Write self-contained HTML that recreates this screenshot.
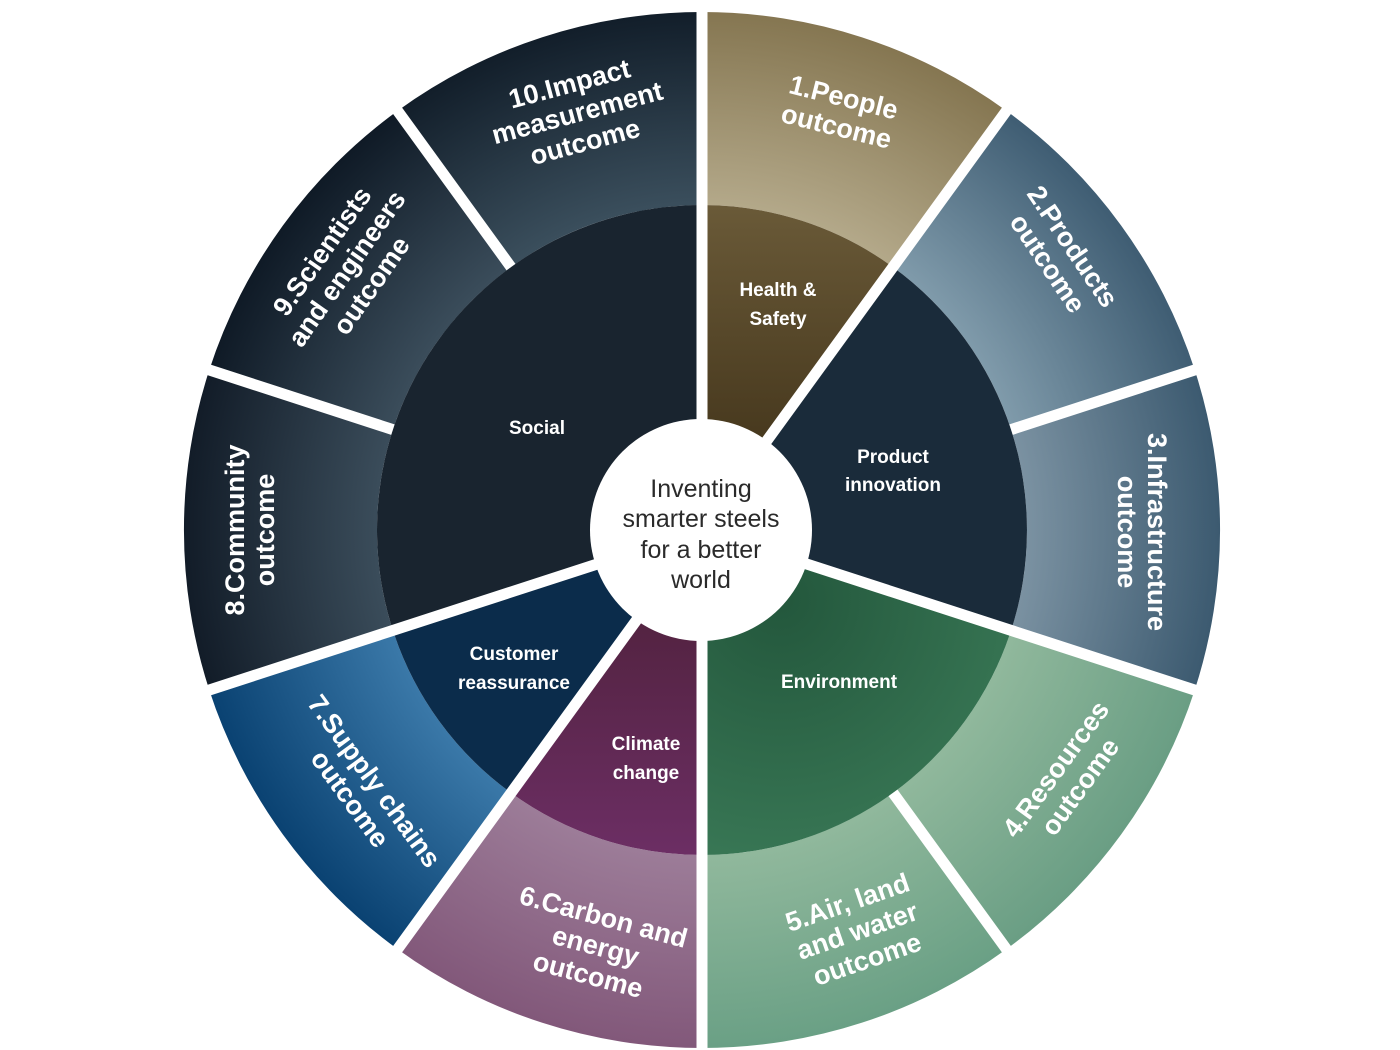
<!DOCTYPE html>
<html><head><meta charset="utf-8"><style>
html,body{margin:0;padding:0;background:#fff;}
svg{display:block;}
.o{font-family:"Liberation Sans",sans-serif;font-weight:bold;font-size:27px;fill:#fff;text-anchor:middle;}
.i{font-family:"Liberation Sans",sans-serif;font-weight:bold;font-size:19px;fill:#fff;text-anchor:middle;}
.c{font-family:"Liberation Sans",sans-serif;font-size:25px;fill:#2a2a2a;text-anchor:middle;}
</style></head><body>
<svg width="1400" height="1050" viewBox="0 0 1400 1050" xmlns="http://www.w3.org/2000/svg">
<defs>
<radialGradient id="g1" gradientUnits="userSpaceOnUse" cx="702" cy="530" r="518"><stop offset="0.63" stop-color="#b3a889"/><stop offset="1" stop-color="#857651"/></radialGradient>
<radialGradient id="g2" gradientUnits="userSpaceOnUse" cx="702" cy="530" r="518"><stop offset="0.63" stop-color="#7f9aaa"/><stop offset="1" stop-color="#3f5d73"/></radialGradient>
<radialGradient id="g3" gradientUnits="userSpaceOnUse" cx="702" cy="530" r="518"><stop offset="0.63" stop-color="#7a91a1"/><stop offset="1" stop-color="#3c5a70"/></radialGradient>
<radialGradient id="g4" gradientUnits="userSpaceOnUse" cx="702" cy="530" r="518"><stop offset="0.63" stop-color="#90b89c"/><stop offset="1" stop-color="#6a9e84"/></radialGradient>
<radialGradient id="g5" gradientUnits="userSpaceOnUse" cx="702" cy="530" r="518"><stop offset="0.63" stop-color="#90b89c"/><stop offset="1" stop-color="#6aa085"/></radialGradient>
<radialGradient id="g6" gradientUnits="userSpaceOnUse" cx="702" cy="530" r="518"><stop offset="0.63" stop-color="#9c7c98"/><stop offset="1" stop-color="#82587a"/></radialGradient>
<radialGradient id="g7" gradientUnits="userSpaceOnUse" cx="702" cy="530" r="518"><stop offset="0.63" stop-color="#3a78a8"/><stop offset="1" stop-color="#0a4272"/></radialGradient>
<radialGradient id="g8" gradientUnits="userSpaceOnUse" cx="702" cy="530" r="518"><stop offset="0.63" stop-color="#3a4c5a"/><stop offset="1" stop-color="#121c28"/></radialGradient>
<radialGradient id="g9" gradientUnits="userSpaceOnUse" cx="702" cy="530" r="518"><stop offset="0.63" stop-color="#3a4c5a"/><stop offset="1" stop-color="#0f1a26"/></radialGradient>
<radialGradient id="g10" gradientUnits="userSpaceOnUse" cx="702" cy="530" r="518"><stop offset="0.63" stop-color="#3a4e5c"/><stop offset="1" stop-color="#121e2a"/></radialGradient>
<linearGradient id="hs" x1="0" y1="0" x2="0" y2="1"><stop offset="0" stop-color="#6a5a38"/><stop offset="1" stop-color="#3a2c14"/></linearGradient>
<radialGradient id="env" gradientUnits="userSpaceOnUse" cx="780" cy="600" r="300"><stop offset="0" stop-color="#23573c"/><stop offset="1" stop-color="#3b7b58"/></radialGradient>
<linearGradient id="cc" x1="0" y1="0" x2="0" y2="1"><stop offset="0" stop-color="#4a1f34"/><stop offset="1" stop-color="#6c2e64"/></linearGradient>
</defs>
<!-- outer segments -->
<path fill="url(#g1)" d="M702,205 L702,12 A518,518 0 0 1 1006.5,110.9 L893,267.1 A325,325 0 0 0 702,205Z"/>
<path fill="url(#g2)" d="M893,267.1 L1006.5,110.9 A518,518 0 0 1 1194.7,369.9 L1011.1,429.6 A325,325 0 0 0 893,267.1Z"/>
<path fill="url(#g3)" d="M1011.1,429.6 L1194.7,369.9 A518,518 0 0 1 1194.7,690.1 L1011.1,630.4 A325,325 0 0 0 1011.1,429.6Z"/>
<path fill="url(#g4)" d="M1011.1,630.4 L1194.7,690.1 A518,518 0 0 1 1006.5,949.1 L893,792.9 A325,325 0 0 0 1011.1,630.4Z"/>
<path fill="url(#g5)" d="M893,792.9 L1006.5,949.1 A518,518 0 0 1 702,1048 L702,855 A325,325 0 0 0 893,792.9Z"/>
<path fill="url(#g6)" d="M702,855 L702,1048 A518,518 0 0 1 397.5,949.1 L511,792.9 A325,325 0 0 0 702,855Z"/>
<path fill="url(#g7)" d="M511,792.9 L397.5,949.1 A518,518 0 0 1 209.3,690.1 L392.9,630.4 A325,325 0 0 0 511,792.9Z"/>
<path fill="url(#g8)" d="M392.9,630.4 L209.3,690.1 A518,518 0 0 1 209.3,369.9 L392.9,429.6 A325,325 0 0 0 392.9,630.4Z"/>
<path fill="url(#g9)" d="M392.9,429.6 L209.3,369.9 A518,518 0 0 1 397.5,110.9 L511,267.1 A325,325 0 0 0 392.9,429.6Z"/>
<path fill="url(#g10)" d="M511,267.1 L397.5,110.9 A518,518 0 0 1 702,12 L702,205 A325,325 0 0 0 511,267.1Z"/>
<!-- inner sectors -->
<path fill="url(#hs)" d="M702,530 L702,205 A325,325 0 0 1 893,267.1Z"/>
<path fill="#1a2b3a" d="M702,530 L893,267.1 A325,325 0 0 1 1011.1,630.4Z"/>
<path fill="url(#env)" d="M702,530 L1011.1,630.4 A325,325 0 0 1 702,855Z"/>
<path fill="url(#cc)" d="M702,530 L702,855 A325,325 0 0 1 511,792.9Z"/>
<path fill="#0b2c4b" d="M702,530 L511,792.9 A325,325 0 0 1 392.9,630.4Z"/>
<path fill="#19242f" d="M702,530 L392.9,630.4 A325,325 0 0 1 702,205Z"/>
<!-- gaps -->
<g stroke="#fff" stroke-width="11">
<line x1="702" y1="530" x2="702" y2="0"/>
<line x1="702" y1="530" x2="1015" y2="99"/>
<line x1="1011.1" y1="429.6" x2="1210" y2="365"/>
<line x1="702" y1="530" x2="1210" y2="695"/>
<line x1="893" y1="792.9" x2="1015" y2="961"/>
<line x1="702" y1="530" x2="702" y2="1050"/>
<line x1="702" y1="530" x2="389" y2="961"/>
<line x1="702" y1="530" x2="194" y2="695"/>
<line x1="392.9" y1="429.6" x2="194" y2="365"/>
<line x1="511" y1="267.1" x2="389" y2="99"/>
</g>
<circle cx="701" cy="530" r="111" fill="#fff"/>
<!-- center text -->
<text class="c" x="701" y="497">Inventing</text>
<text class="c" x="701" y="527">smarter steels</text>
<text class="c" x="701" y="558">for a better</text>
<text class="c" x="701" y="588">world</text>
<!-- inner labels -->
<text class="i" x="537" y="434">Social</text>
<text class="i" x="778" y="296">Health &amp;</text><text class="i" x="778" y="325">Safety</text>
<text class="i" x="893" y="463">Product</text><text class="i" x="893" y="491">innovation</text>
<text class="i" x="839" y="688">Environment</text>
<text class="i" x="646" y="750">Climate</text><text class="i" x="646" y="779">change</text>
<text class="i" x="514" y="660">Customer</text><text class="i" x="514" y="689">reassurance</text>
<!-- outer labels -->
<g transform="translate(840,112) rotate(14)"><text class="o" y="-6">1.People</text><text class="o" y="24">outcome</text></g>
<g transform="translate(1060,255) rotate(56)"><text class="o" y="-6">2.Products</text><text class="o" y="24">outcome</text></g>
<g transform="translate(1142,532) rotate(90)"><text class="o" y="-6">3.Infrastructure</text><text class="o" y="24">outcome</text></g>
<g transform="translate(1068,778) rotate(-54)"><text class="o" y="-6">4.Resources</text><text class="o" y="24">outcome</text></g>
<g transform="translate(857,930) rotate(-19)"><text class="o" y="-20">5.Air, land</text><text class="o" y="10">and water</text><text class="o" y="40">outcome</text></g>
<g transform="translate(596,945) rotate(15)"><text class="o" y="-20">6.Carbon and</text><text class="o" y="10">energy</text><text class="o" y="40">outcome</text></g>
<g transform="translate(362,790) rotate(54)"><text class="o" y="-6">7.Supply chains</text><text class="o" y="24">outcome</text></g>
<g transform="translate(250,530) rotate(-90)"><text class="o" y="-6">8.Community</text><text class="o" y="24">outcome</text></g>
<g transform="translate(346,268) rotate(-55)"><text class="o" y="-20">9.Scientists</text><text class="o" y="10">and engineers</text><text class="o" y="40">outcome</text></g>
<g transform="translate(577,112) rotate(-15)"><text class="o" y="-20">10.Impact</text><text class="o" y="10">measurement</text><text class="o" y="40">outcome</text></g>
</svg>
</body></html>
